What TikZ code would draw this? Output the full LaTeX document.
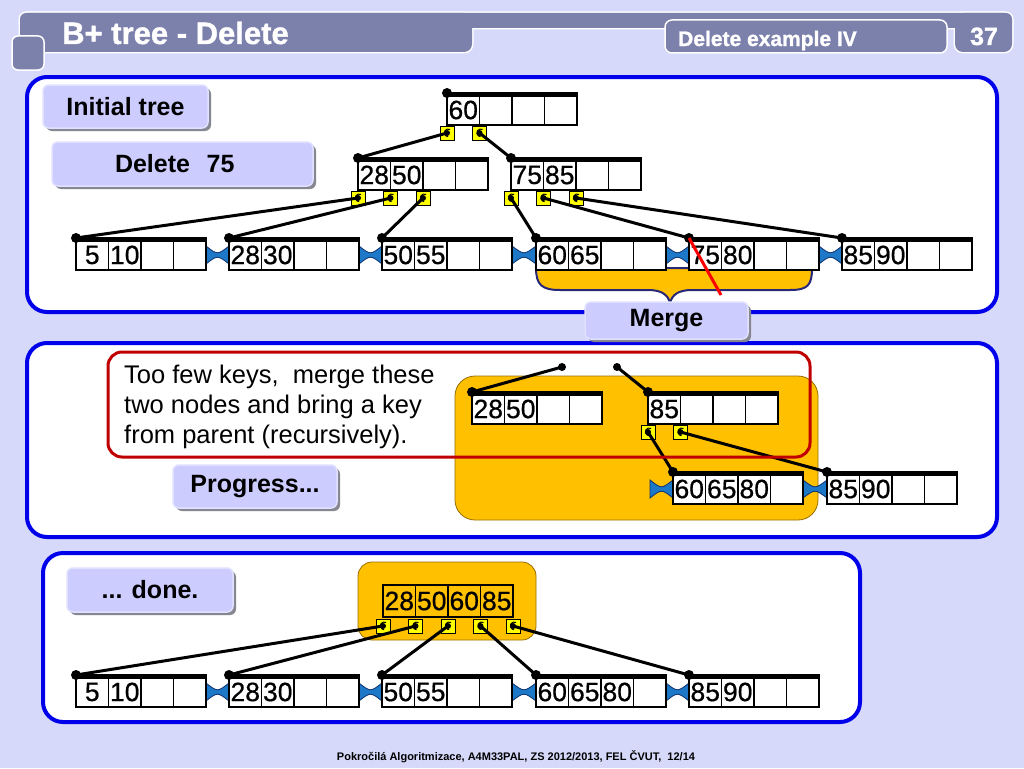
\documentclass[tikz,border=0pt]{standalone}
\usepackage{fontspec}
\setmainfont{Liberation Sans}
\newfontfamily\heavyfont[FakeBold=1.2]{Liberation Sans Bold}
\newfontfamily\digitfont[FakeBold=0.6]{Liberation Sans}
\usetikzlibrary{shadows}
\definecolor{bgc}{RGB}{214,217,250}
\definecolor{slate}{RGB}{124,129,172}
\definecolor{pblue}{RGB}{0,0,235}
\definecolor{lblfill}{RGB}{204,204,255}
\definecolor{lbledge}{RGB}{224,224,255}
\definecolor{shad}{RGB}{135,135,145}
\definecolor{orng}{RGB}{255,192,0}
\definecolor{orngedge}{RGB}{150,110,0}
\definecolor{navy}{RGB}{40,40,120}
\definecolor{ptry}{RGB}{255,255,0}
\definecolor{tief}{RGB}{30,120,200}
\definecolor{tiee}{RGB}{15,50,110}
\definecolor{redb}{RGB}{192,0,0}
\definecolor{redl}{RGB}{255,0,0}
% B+ tree node: name, x, y(bar), keys
\newcommand\bpn[7]{%
  \node[cell] (#1-1) at (#2+16.25,#3+17) {#4};
  \node[cell] (#1-2) at (#2+48.75,#3+17) {#5};
  \node[cell] (#1-3) at (#2+81.25,#3+17) {#6};
  \node[cell] (#1-4) at (#2+113.75,#3+17) {#7};
  \draw[bar] (#1-1.north west) -- (#1-4.north east);
  \node[dot] (#1) at (#2,#3) {};
}
\newcommand\bptr[3]{\node[ptr] (#1) at (#2,#3) {};}
\newcommand\btie[3]{\filldraw[tie] (#1,#3-9) .. controls ({(#1+#2)/2},#3) .. (#2,#3-9) -- (#2,#3+9) .. controls ({(#1+#2)/2},#3) .. (#1,#3+9) -- cycle;}
\begin{document}
\begin{tikzpicture}[x=1pt,y=-1pt,
  panel/.style={draw=pblue,line width=4pt,fill=white,rounded corners=20pt},
  lbl/.style={fill=lblfill,draw=lbledge,line width=1.5pt,rounded corners=6pt,
     drop shadow={shadow xshift=3pt,shadow yshift=-3pt,fill=shad,opacity=1},
     font=\bfseries\fontsize{25}{25}\selectfont,inner sep=0pt},
  cell/.style={draw,line width=1.2pt,fill=white,minimum width=32.5pt,minimum height=30pt,inner sep=0pt,font=\digitfont\fontsize{26.5}{26.5}\selectfont},
  bar/.style={line width=5pt},
  dot/.style={circle,fill=black,inner sep=0pt,minimum size=10pt},
  ptr/.style={draw,line width=1pt,fill=ptry,minimum size=14pt,inner sep=0pt,
     path picture={\fill[black] (path picture bounding box.center) circle (3pt);
       \draw[black,line width=1pt] ([xshift=3pt,yshift=3.5pt]path picture bounding box.center) arc (60:270:3.8pt);}},
  conn/.style={line width=3pt},
  tie/.style={fill=tief,draw=tiee,line width=0.8pt},
  orbox/.style={fill=orng,draw=orngedge,line width=0.8pt},
  hdr/.style={text=white,inner sep=0pt},
  body/.style={anchor=base west,inner sep=0pt,font=\fontsize{25.5}{25.5}\selectfont},
]
\fill[bgc] (0,0) rectangle (1024,768);
\useasboundingbox (0,0) rectangle (1024,768);

% ---------- header ----------
\draw[white,line width=3pt,rounded corners=8pt] (20,13) rectangle (472,52);
\draw[white,line width=3pt,rounded corners=6pt] (20,13) rectangle (1012,28);
\draw[white,line width=3pt,rounded corners=8pt] (955,13) rectangle (1012,52);
\fill[slate,rounded corners=8pt] (20,13) rectangle (472,52);
\fill[slate,rounded corners=6pt] (20,13) rectangle (1012,28);
\fill[slate,rounded corners=8pt] (955,13) rectangle (1012,52);
\draw[fill=slate,draw=white,line width=1.5pt,rounded corners=7pt] (665,20) rectangle (947,53);
\draw[fill=slate,draw=white,line width=1.5pt,rounded corners=6pt] (12,36) rectangle (44,70);
\node[hdr,anchor=base west,font=\heavyfont\fontsize{31}{31}\selectfont] (title) at (62,44) {B+ tree - Delete};
\node[hdr,anchor=base west,font=\heavyfont\fontsize{21}{21}\selectfont] (sub) at (678,46) {Delete example IV};
\node[hdr,anchor=base,font=\heavyfont\fontsize{25}{25}\selectfont] (pg) at (984,45) {37};

% ---------- panels ----------
\draw[panel] (27,77) rectangle (997,312);
\draw[panel] (27,343) rectangle (997,537);
\draw[panel] (43,553) rectangle (860,722);

% ---------- panel 1 ----------
\node[lbl,minimum width=165pt,minimum height=43pt] (initial) at (125.5,106.5) {Initial tree};
\node[lbl,minimum width=261pt,minimum height=44pt,text width=245pt,align=left] (del) at (182.5,164) {\hspace*{55pt}Delete\ \ 75};

\filldraw[fill=orng,draw=navy,line width=2pt] (536,268) .. controls (536,285) and (542,290) .. (560,290) -- (648,290) .. controls (662,290) and (668,295) .. (670,303) .. controls (672,295) and (678,290) .. (692,290) -- (790,290) .. controls (808,290) and (812,285) .. (812,268) -- cycle;

\btie{206}{229}{255}\btie{359}{382}{255}\btie{512}{536}{255}\btie{666}{689}{255}\btie{819}{842}{255}

\bpn{root}{447}{93}{60}{}{}{}
\bpn{na}{358}{158}{28}{50}{}{}
\bpn{nb}{511}{158}{75}{85}{}{}
\bpn{la}{76}{238}{5}{10}{}{}
\bpn{lb}{229}{238}{28}{30}{}{}
\bpn{lc}{382}{238}{50}{55}{}{}
\bpn{ld}{536}{238}{60}{65}{}{}
\bpn{le}{689}{238}{75}{80}{}{}
\bpn{lf}{842}{238}{85}{90}{}{}
\bptr{root-p0}{447}{133}\bptr{root-p1}{479.5}{133}
\bptr{na-p0}{358}{198}\bptr{na-p1}{390.5}{198}\bptr{na-p2}{423}{198}
\bptr{nb-p0}{511}{198}\bptr{nb-p1}{543.5}{198}\bptr{nb-p2}{576}{198}
\draw[conn] (root-p0.center) -- (na.center);
\draw[conn] (root-p1.center) -- (nb.center);
\draw[conn] (na-p0.center) -- (la.center);
\draw[conn] (na-p1.center) -- (lb.center);
\draw[conn] (na-p2.center) -- (lc.center);
\draw[conn] (nb-p0.center) -- (ld.center);
\draw[conn] (nb-p1.center) -- (le.center);
\draw[conn] (nb-p2.center) -- (lf.center);
\coordinate (strike) at (721,295);
\draw[redl,line width=3pt] (le.center) -- (strike);
\node[lbl,minimum width=163pt,minimum height=37pt] (merge) at (666.5,320.5) {Merge};

% ---------- panel 2 ----------
\draw[orbox,rounded corners=20pt] (455,376) rectangle (818,520);
\btie{650}{673}{489}\btie{803}{827}{489}
\bpn{qa}{472}{392}{28}{50}{}{}
\bpn{qb}{648}{392}{85}{}{}{}
\bpn{qc}{673}{472}{60}{65}{80}{}
\bpn{qd}{827}{472}{85}{90}{}{}
\bptr{qb-p0}{648}{432}\bptr{qb-p1}{680.5}{432}
\node[dot,minimum size=8pt] (fa) at (562,367) {};
\node[dot,minimum size=8pt] (fb) at (617,367) {};
\draw[conn] (fa.center) -- (qa.center);
\draw[conn] (fb.center) -- (qb.center);
\draw[conn] (qb-p0.center) -- (qc.center);
\draw[conn] (qb-p1.center) -- (qd.center);
\draw[redb,line width=3pt,rounded corners=14pt] (108,352) rectangle (810,457);
\node[body] (t1) at (124,383) {Too few keys,\ \ merge these};
\node[body] (t2) at (124,413) {two nodes and bring a key};
\node[body] (t3) at (124,443) {from parent (recursively).};
\node[lbl,minimum width=164pt,minimum height=43pt] (prog) at (255,486.5) {Progress...};

% ---------- panel 3 ----------
\node[lbl,minimum width=166pt,minimum height=44pt] (done) at (150,590) {... done.};
\draw[orbox,rounded corners=14pt] (358,562) rectangle (536,640);
\node[cell,fill=orng,minimum height=32pt] (t-1) at (399.25,601) {28};
\node[cell,fill=orng,minimum height=32pt] (t-2) at (431.75,601) {50};
\node[cell,fill=orng,minimum height=32pt] (t-3) at (464.25,601) {60};
\node[cell,fill=orng,minimum height=32pt] (t-4) at (496.75,601) {85};
\btie{206}{229}{692}\btie{359}{382}{692}\btie{512}{536}{692}\btie{666}{689}{692}
\bpn{ma}{76}{675}{5}{10}{}{}
\bpn{mb}{229}{675}{28}{30}{}{}
\bpn{mc}{382}{675}{50}{55}{}{}
\bpn{md}{536}{675}{60}{65}{80}{}
\bpn{me}{689}{675}{85}{90}{}{}
\bptr{t-p0}{383}{626}\bptr{t-p1}{415.5}{626}\bptr{t-p2}{448}{626}\bptr{t-p3}{480.5}{626}\bptr{t-p4}{513}{626}
\draw[conn] (t-p0.center) -- (ma.center);
\draw[conn] (t-p1.center) -- (mb.center);
\draw[conn] (t-p2.center) -- (mc.center);
\draw[conn] (t-p3.center) -- (md.center);
\draw[conn] (t-p4.center) -- (me.center);

% ---------- footer ----------
\node[anchor=base,inner sep=0pt,font=\bfseries\fontsize{11}{11}\selectfont] (foot) at (516,760) {Pokročilá Algoritmizace, A4M33PAL, ZS 2012/2013, FEL ČVUT,\ \ 12/14};
\end{tikzpicture}
\end{document}
